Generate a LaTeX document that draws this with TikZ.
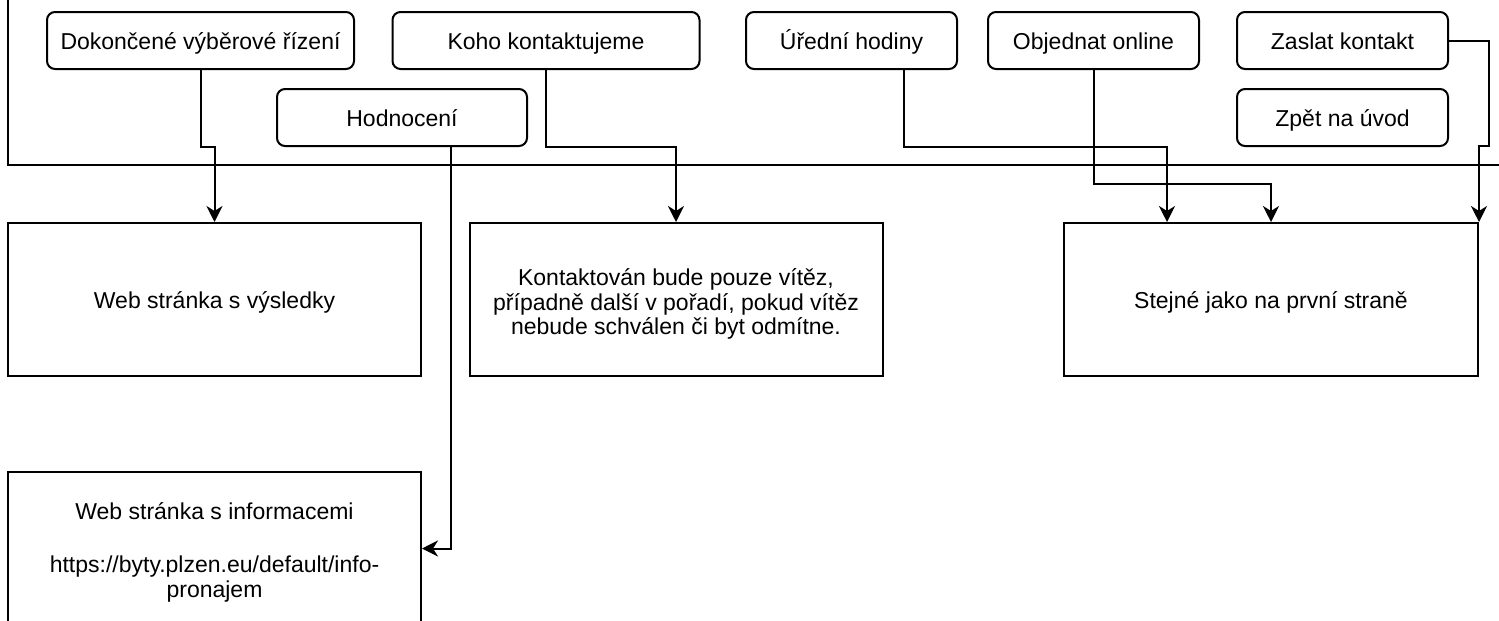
\documentclass[tikz,border=0pt]{standalone}
\usepackage{fontspec}
\setmainfont{Liberation Sans}
\usepackage{tikz}
\usetikzlibrary{arrows.meta, calc}

\tikzset{
  txt/.style={font=\fontsize{11.5}{12.7}\selectfont, text=black},
  oneline/.style={text height=9pt, text depth=0pt},
  menubtn/.style={txt, oneline, draw=black, line width=1pt, rounded corners=4pt, minimum width=105.5pt, minimum height=28.5pt, inner sep=0pt},
  pagebox/.style={txt, draw=black, line width=1pt, minimum width=206.5pt, minimum height=76.5pt, align=center, inner sep=0pt},
  link/.style={draw=black, line width=1pt, -{Stealth[length=8pt, width=8pt, inset=2.5pt]}}
}

\begin{document}
\begin{tikzpicture}[x=0.5pt, y=-0.5pt]
                \clip (0,0) rectangle (1499,621);

                % ram horniho menu
                \draw[line width=1pt] (8,-20) |- (1530,165);

                % tlacitka v menu
                \node[menubtn, minimum width=153.5pt] (vyber) at (200.5,40.5) {Dokončené výběrové řízení};
                \node[menubtn, minimum width=153.5pt] (koho) at (546,40.5) {Koho kontaktujeme};
                \node[menubtn, minimum width=125pt] (hodn) at (402,117.5) {Hodnocení};
                \node[menubtn] (hodiny) at (851.5,40.5) {Úřední hodiny};
                \node[menubtn] (objed) at (1093.5,40.5) {Objednat online};
                \node[menubtn] (zaslat) at (1342.5,40.5) {Zaslat kontakt};
                \node[menubtn] (zpet) at (1342.5,117.5) {Zpět na úvod};

                % cilove stranky
                \node[pagebox, oneline] (vysl) at (214.5,299.5) {Web stránka s výsledky};
                \node[pagebox] (kontakt) at (676,299.5) {\rule{0pt}{14pt}Kontaktován bude pouze vítěz,\\[-0.5pt]případně další v pořadí, pokud vítěz\\[-0.5pt]nebude schválen či byt odmítne.\rule[-3.4pt]{0pt}{3.4pt}};
                \node[pagebox, oneline, minimum width=207pt] (stejne) at (1271,299.5) {Stejné jako na první straně};
                \node[pagebox] (info) at (214.5,548.5) {\rule{0pt}{13pt}Web stránka s informacemi\\[14pt]https://byty.plzen.eu/default/info-\\[-0.5pt]pronajem\rule[-3.1pt]{0pt}{3.1pt}};

                % propojeni
                \draw[link] (vyber.south) -- ++(0,77) -| (vysl.north);
                \draw[link] ([xshift=24.5pt]hodn.south) |- (info.east);
                \draw[link] (koho.south) -- ++(0,77) -| (kontakt.north);
                \draw[link] ([xshift=26.25pt]hodiny.south) -- ++(0,77) -| ([xshift=52pt]stejne.north west);
                \draw[link] (objed.south) -- ++(0,114) -| (stejne.north);
                \draw[link] (zaslat.east) -- ++(40,0) -- ++(0,105) -| (stejne.north east);
            \end{tikzpicture}
\end{document}
